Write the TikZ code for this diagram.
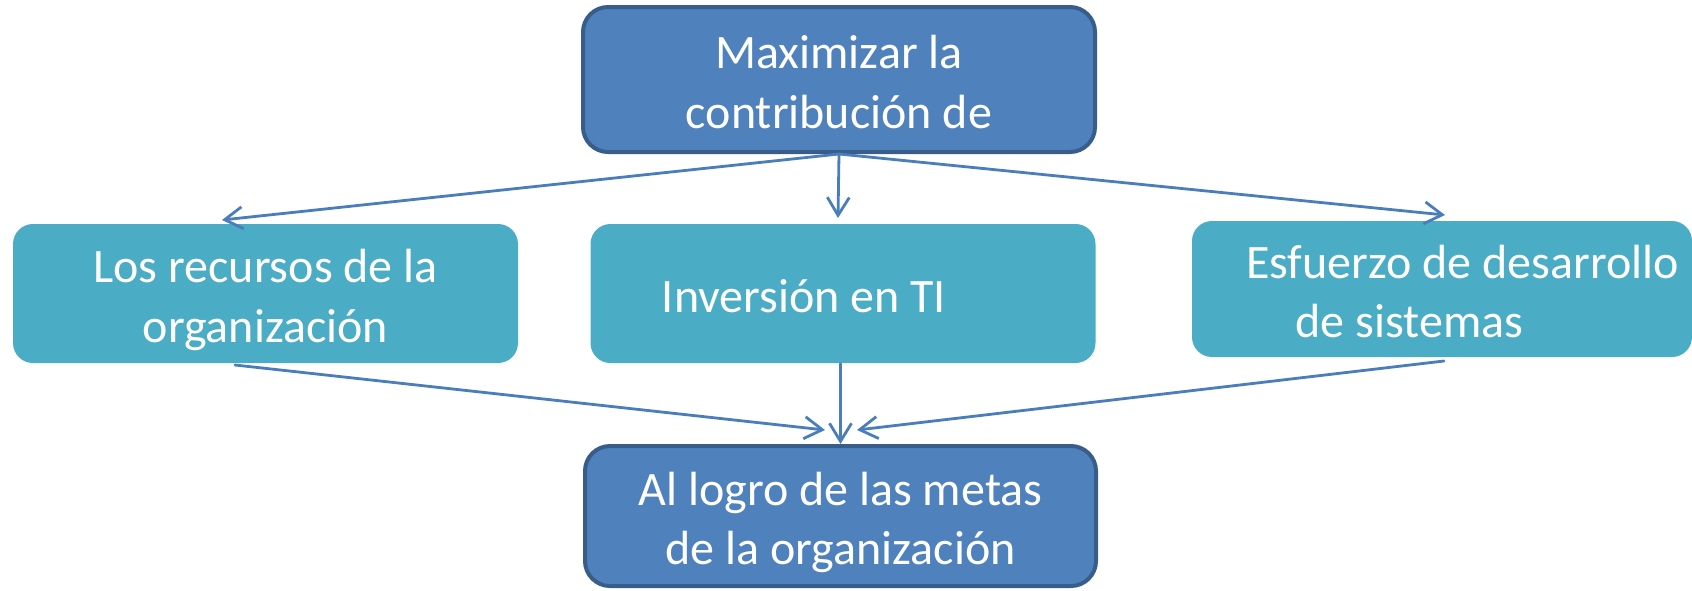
\documentclass[tikz,border=0pt]{standalone}
\usepackage{fontspec}
\setmainfont{Carlito}
\usepackage{xcolor}
\usepackage{tikz}
\usetikzlibrary{arrows.meta}
\definecolor{goalfill}{HTML}{4F81BD}
\definecolor{goaldraw}{HTML}{385D8A}
\definecolor{factorfill}{HTML}{4BACC6}
\definecolor{linkblue}{HTML}{4A7EBB}
% first line / last line struts, keep the text low in the box
\newcommand{\TopStrut}{\rule{0pt}{5.6mm}}
\newcommand{\BotStrut}{\rule[-1.8mm]{0pt}{1.8mm}}
\tikzset{
  GoalBox/.style={
    draw=goaldraw, line width=0.4mm, fill=goalfill,
    rounded corners=2.5mm, inner sep=0pt, align=center,
    text=white, font=\fontsize{13.66pt}{16.8pt}\selectfont
  },
  FactorBox/.style={
    fill=factorfill, rounded corners=2mm,
    inner sep=0pt, align=center,
    text=white, font=\fontsize{13.66pt}{16.8pt}\selectfont
  },
  Link/.style={
    draw=linkblue, line width=0.28mm,
    -{Straight Barb[length=1.8mm,width=2.2mm]}
  }
}

\begin{document}
\begin{tikzpicture}[x=0.1mm, y=0.1mm, line cap=round, line join=round]
  \useasboundingbox (0,0) rectangle (1692,590);

  % goal boxes
  \node[GoalBox, minimum width=51.2mm, minimum height=14.5mm] (max) at (839,510.5)
    {\TopStrut Maximizar la\\contribución de\BotStrut};
  \node[GoalBox, minimum width=51.1mm, minimum height=14mm] (logro) at (840.5,74)
    {\TopStrut Al logro de las metas\\de la organización\BotStrut};

  % factor boxes
  \node[FactorBox, minimum width=50.5mm, minimum height=13.9mm] (rec) at (265.5,296.5)
    {\TopStrut Los recursos de la\\organización\BotStrut};
  \node[FactorBox, minimum width=50.5mm, minimum height=13.9mm] (inv) at (843,296.5)
    {\TopStrut Inversión en TI\hspace*{7.8mm}\BotStrut};
  \node[FactorBox, minimum width=50mm, minimum height=13.6mm] (esf) at (1442,301)
    {\TopStrut\hspace*{4.1mm}Esfuerzo de desarrollo\\de sistemas\hspace*{6.5mm}\BotStrut};

  % arrow ends
  \coordinate (recIn) at (222,370);
  \coordinate (invIn) at (838,372);
  \coordinate (esfIn) at (1445,375);
  \coordinate (recOut) at (235,225);
  \coordinate (esfOut) at (1444,229);
  \coordinate (logroL) at (825,160);
  \coordinate (logroR) at (857,160);

  % links
  \draw[Link] (max.south) -- (recIn);
  \draw[Link] (max.south) -- (invIn);
  \draw[Link] (max.south) -- (esfIn);
  \draw[Link] (recOut) -- (logroL);
  \draw[Link] (inv.south -| logro.north) -- (logro.north);
  \draw[Link] (esfOut) -- (logroR);
\end{tikzpicture}
\end{document}
